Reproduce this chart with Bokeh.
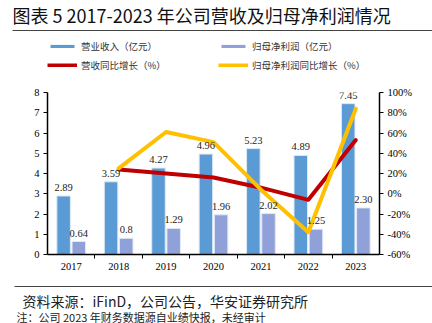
from bokeh.plotting import figure
from bokeh.layouts import column
from bokeh.models import (Range1d, LinearAxis, FixedTicker, PrintfTickFormatter,
                          ColumnDataSource, LabelSet, Label, Legend, LegendItem)
from bokeh.transform import dodge
from bokeh.embed import file_html
from bokeh.resources import INLINE

# ---------------- data ----------------
years = ["2017", "2018", "2019", "2020", "2021", "2022", "2023"]
revenue = [2.89, 3.59, 4.27, 4.96, 5.23, 4.89, 7.45]            # 营业收入（亿元）
profit = [0.64, 0.8, 1.29, 1.96, 2.02, 1.25, 2.30]               # 归母净利润（亿元）
revenue_text = ["2.89", "3.59", "4.27", "4.96", "5.23", "4.89", "7.45"]
profit_text = ["0.64", "0.8", "1.29", "1.96", "2.02", "1.25", "2.30"]
growth_years = ["2018", "2019", "2020", "2021", "2022", "2023"]
revenue_growth = [24, 20, 16, 6, -6, 53]                         # 营收同比增长（%）
profit_growth = [25, 61, 51, 4, -38, 84]                         # 归母净利润同比增长（%）
left_ticks = [0, 1, 2, 3, 4, 5, 6, 7, 8]
right_ticks = [-60, -40, -20, 0, 20, 40, 60, 80, 100]
legend_labels = ["营业收入（亿元）", "归母净利润（亿元）", "营收同比增长（%）", "归母净利润同比增长（%）"]

title_text = "图表 5 2017-2023 年公司营收及归母净利润情况"
source_text = "资料来源：iFinD，公司公告，华安证券研究所"
note_text = "注：公司 2023 年财务数据源自业绩快报，未经审计"

BLUE = "#5B9BD5"
PURPLE = "#8FA1D8"
RED = "#C00000"
YELLOW = "#FFC000"
SERIF = "Liberation Serif"
CJK = "Noto Sans CJK SC"
W = 432


def panel(h, left=0, top=0, bottom=0, xloc=None):
    f = figure(width=W, height=h, output_backend="svg", toolbar_location=None,
               x_range=Range1d(left, W), y_range=Range1d(0, 1),
               x_axis_location=xloc, y_axis_location=None, frame_align=False,
               min_border=0, min_border_left=left, min_border_right=0,
               min_border_top=top, min_border_bottom=bottom)
    f.grid.visible = False
    f.outline_line_color = None
    f.background_fill_color = "white"
    f.border_fill_color = "white"
    if xloc is not None:
        ax = f.xaxis[0]           # a bare axis line used as a horizontal rule
        ax.ticker = FixedTicker(ticks=[])
        ax.major_tick_in = ax.major_tick_out = 0
        ax.minor_tick_in = ax.minor_tick_out = 0
        ax.major_tick_line_color = None
        ax.minor_tick_line_color = None
        ax.major_label_standoff = 0
        ax.major_label_text_font_size = "0px"
        ax.axis_line_color = "#444444"
        ax.axis_line_width = 1.2
    return f


# ---------------- title with rule below ----------------
head = panel(31, left=12, bottom=1, xloc="below")
head.add_layout(Label(x=12, y=1, y_offset=-14, text=title_text, text_font=CJK,
                      text_font_size="18px", text_baseline="middle", text_color="#111111"))

# ---------------- legend ----------------
leg = panel(49)
nan = float("nan")
e = ColumnDataSource(dict(x=[nan], y=[nan]))   # style carriers, nothing drawn
l_rev = leg.vbar(x="x", top="y", width=1, source=e, fill_color=BLUE, line_color=None)
l_pro = leg.vbar(x="x", top="y", width=1, source=e, fill_color=PURPLE, line_color=None)
l_rg = leg.line(x="x", y="y", source=e, line_color=RED, line_width=4)
l_pg = leg.line(x="x", y="y", source=e, line_color=YELLOW, line_width=4)
legend = Legend(items=[LegendItem(label=t, renderers=[r]) for t, r in
                       zip(legend_labels, [l_rev, l_pro, l_rg, l_pg])],
                orientation="horizontal", ncols=2,
                location=(47, 8), padding=0, margin=0, spacing=4,
                glyph_width=30, glyph_height=4, label_height=15, label_width=133,
                label_standoff=4, label_text_font=CJK, label_text_font_size="9.5px",
                label_text_color="#333333", border_line_color=None,
                background_fill_alpha=0)
leg.add_layout(legend, "center")

# ---------------- main chart ----------------
xc = [i + 0.5 for i in range(len(years))]
xg = [years.index(y) + 0.5 for y in growth_years]
src = ColumnDataSource(dict(x=xc, revenue=revenue, profit=profit,
                            rt=revenue_text, pt=profit_text))
gsrc = ColumnDataSource(dict(x=xg, rg=revenue_growth, pg=profit_growth))

p = figure(width=W, height=200, output_backend="svg", toolbar_location=None,
           x_range=Range1d(0, len(years)), y_range=Range1d(0, 8), frame_align=False,
           min_border_left=47, min_border_right=53, min_border_top=12, min_border_bottom=26)
p.extra_y_ranges = {"pct": Range1d(-60, 100)}
p.grid.visible = False
p.outline_line_color = None
p.background_fill_color = "white"
p.border_fill_color = "white"

xa = p.xaxis[0]
xa.ticker = FixedTicker(ticks=xc, minor_ticks=[1, 2, 3, 4, 5, 6])
xa.major_label_overrides = {x: y for x, y in zip(xc, years)}
ya = p.yaxis[0]
ya.ticker = FixedTicker(ticks=left_ticks)
ra = LinearAxis(y_range_name="pct", ticker=FixedTicker(ticks=right_ticks),
                formatter=PrintfTickFormatter(format="%d%%"))
p.add_layout(ra, "right")
for ax in (xa, ya, ra):
    ax.axis_line_color = "black"
    ax.axis_line_width = 1.5
    ax.major_tick_line_color = "black"
    ax.major_tick_out = 4
    ax.major_tick_in = 0
    ax.major_label_text_font = SERIF
    ax.major_label_text_font_size = "10.5px"
    ax.major_label_text_color = "black"
    ax.major_label_standoff = 4
xa.major_tick_line_color = None
xa.minor_tick_line_color = "black"
xa.minor_tick_out = 4
xa.minor_tick_in = 0
ya.minor_tick_line_color = None
ra.minor_tick_line_color = None

p.vbar(x=dodge("x", -0.16, range=p.x_range), top="revenue", width=0.285, source=src,
       fill_color=BLUE, line_color="#DCE9F6", line_width=1)
p.vbar(x=dodge("x", 0.16, range=p.x_range), top="profit", width=0.285, source=src,
       fill_color=PURPLE, line_color="#E3E8F6", line_width=1)
p.add_layout(LabelSet(x=dodge("x", -0.16, range=p.x_range), y="revenue", text="rt", source=src,
                      text_align="center", text_baseline="bottom", y_offset=5,
                      text_font=SERIF, text_font_size="10.5px", text_color="#222222"))
p.add_layout(LabelSet(x=dodge("x", 0.16, range=p.x_range), y="profit", text="pt", source=src,
                      text_align="center", text_baseline="bottom", y_offset=5,
                      text_font=SERIF, text_font_size="10.5px", text_color="#222222"))
p.line(x="x", y="rg", source=gsrc, y_range_name="pct", line_color=RED, line_width=4,
       line_join="round", line_cap="round")
p.line(x="x", y="pg", source=gsrc, y_range_name="pct", line_color=YELLOW, line_width=4,
       line_join="round", line_cap="round")

# ---------------- footer with rule above ----------------
foot = panel(43, left=14, top=6, xloc="above")
foot.add_layout(Label(x=22, y=1, y_offset=-14, text=source_text, text_font=CJK,
                      text_font_size="14px", text_baseline="middle", text_color="#222222"))
foot.add_layout(Label(x=16, y=1, y_offset=-30, text=note_text, text_font=CJK,
                      text_font_size="11px", text_baseline="middle", text_color="#222222"))

open("out.html", "w").write(file_html(column(head, leg, p, foot, spacing=0), INLINE))
